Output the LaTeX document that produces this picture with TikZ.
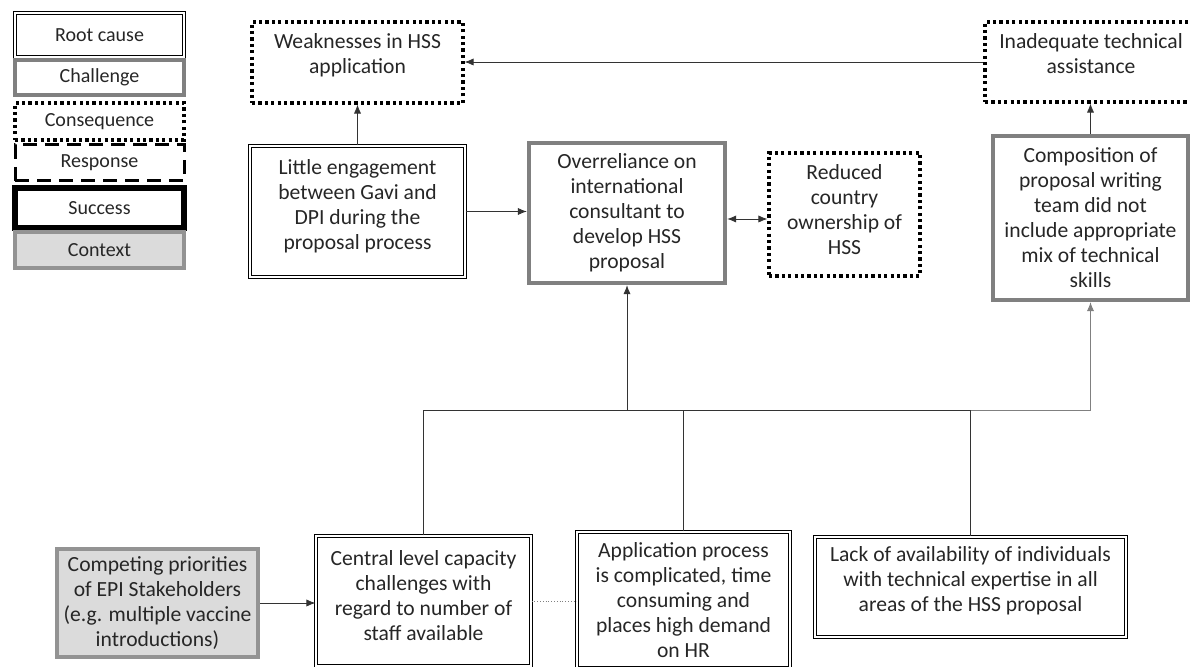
\documentclass[tikz,border=0pt]{standalone}
\usepackage{fontspec}
\setmainfont{Carlito}
\usetikzlibrary{arrows.meta}
\newcommand{\bpad}[1]{\rule[-#1]{0pt}{#1}}

\begin{document}
\begin{tikzpicture}[x=0.5pt,y=-0.5pt,>={Latex[length=4.5pt,width=3.6pt]},
  font=\fontsize{10.8}{12.5}\selectfont,
  box/.style={align=center, inner sep=2pt, text=black!85},
  rootc/.style={box, draw, double, line width=0.6pt, double distance=0.9pt},
  chall/.style={box, draw=gray, line width=2.2pt},
  conseq/.style={box, draw, line width=1.6pt, dash pattern=on 1.6pt off 1.6pt},
  resp/.style={box, draw, line width=1.5pt, dash pattern=on 7pt off 4pt},
  succ/.style={box, draw, line width=2.6pt},
  ctx/.style={box, draw=gray!85, fill=gray!28, line width=2pt},
  legend/.style={minimum width=84.5pt, font=\fontsize{10}{11}\selectfont}]
\useasboundingbox (0,0) rectangle (1190,667);

% legend
\node[rootc,legend,minimum height=22pt] (lroot) at (99.5,35) {Root cause};
\node[chall,legend,minimum height=17.5pt] (lchall) at (99.5,77.5) {Challenge};
\node[conseq,legend,minimum height=18.5pt] (lconseq) at (99.5,121.5) {Consequence};
\node[resp,legend,minimum height=18pt] (lresp) at (99.5,163) {Response};
\node[succ,legend,minimum height=20pt] (lsucc) at (99.5,208) {Success};
\node[ctx,legend,minimum height=18pt] (lctx) at (99.5,250) {Context};

% top row
\node[conseq,minimum width=105.5pt,minimum height=40.5pt] (weak) at (357.5,62.5)
  {Weaknesses in HSS\\application\bpad{8.5pt}};
\node[conseq,minimum width=106pt,minimum height=40pt] (inadeq) at (1091,62)
  {Inadequate technical\\assistance\bpad{8.5pt}};

% middle row
\node[rootc,minimum width=107.5pt,minimum height=65.5pt] (little) at (357.5,211.5)
  {Little engagement\\between Gavi and\\DPI during the\\proposal process\bpad{6.5pt}};
\node[chall,minimum width=98pt,minimum height=70pt] (over) at (627,213)
  {Overreliance on\\international\\consultant to\\develop HSS\\proposal};
\node[conseq,minimum width=75.5pt,minimum height=61.5pt] (reduced) at (844.5,214.5)
  {Reduced\\country\\ownership of\\HSS\bpad{4.5pt}};
\node[chall,minimum width=97.5pt,minimum height=82pt] (comp) at (1090.5,218)
  {Composition of\\proposal writing\\team did not\\include appropriate\\mix of technical\\skills};

% bottom row
\node[ctx,minimum width=100.5pt,minimum height=54pt] (competing) at (157.5,603)
  {Competing priorities\\of EPI Stakeholders\\(e.g. multiple vaccine\\introductions)};
\node[rootc,minimum width=107.5pt,minimum height=65pt] (central) at (423.5,601)
  {Central level capacity\\challenges with\\regard to number of\\staff available\bpad{5pt}};
\node[rootc,minimum width=106.5pt,minimum height=68pt] (app) at (683.5,600)
  {Application process\\is complicated, time\\consuming and\\places high demand\\on HR};
\node[rootc,minimum width=155.5pt,minimum height=50pt] (lack) at (970.5,587)
  {Lack of availability of individuals\\with technical expertise in all\\areas of the HSS proposal\bpad{8pt}};

\coordinate (bus) at (0,410);

% connectors
\draw[->, black!80] (little.north) -- (weak.south);
\draw[->, black!80] (inadeq.west) -- (inadeq.west -| weak.east);
\draw[->, black!80] (little.east) -- (little.east -| over.west);
\draw[<->, black!80] ([yshift=-3pt]over.east) -- ([yshift=-3pt]over.east -| reduced.west);
\draw[->, black!80] (comp.north) -- (comp.north |- inadeq.south);
\draw[->, black!80] (competing.east) -- (competing.east -| central.west);
\draw[gray, densely dotted] (central.east) -- (central.east -| app.west);
\draw[black!80] (central.north) -- (central.north |- bus) -- (lack.north |- bus) -- (lack.north);
\draw[black!80] (app.north) -- (app.north |- bus);
\draw[->, black!80] (over.south |- bus) -- (over.south);
\draw[->, gray] (lack.north |- bus) -| (comp.south);
\end{tikzpicture}
\end{document}
